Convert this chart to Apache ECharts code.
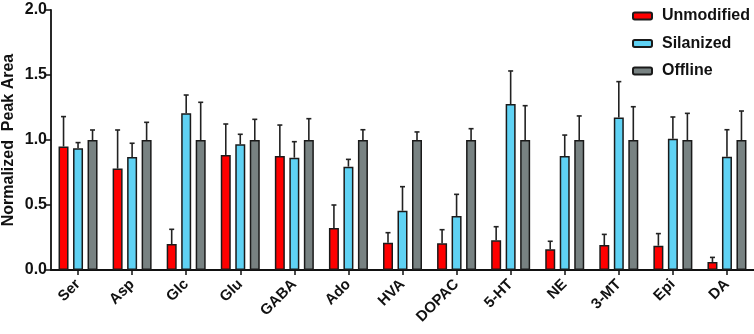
<!DOCTYPE html>
<html>
<head>
    <meta charset="utf-8">
    <title>Normalized Peak Area</title>
    <script src="https://cdn.jsdelivr.net/npm/echarts@6/dist/echarts.min.js"></script>
    <style>
        html, body { margin: 0; padding: 0; background: #fff; }
        #main { width: 754px; height: 334px; }
    </style>
</head>
<body>
<div id="main"></div>
<script type="text/javascript">
    // categories (analytes)
    var categories = ['Ser', 'Asp', 'Glc', 'Glu', 'GABA', 'Ado', 'HVA', 'DOPAC', '5-HT', 'NE', '3-MT', 'Epi', 'DA'];
    var seriesNames = ['Unmodified', 'Silanized', 'Offline'];

    // mean values
    var unmodified = [0.95, 0.78, 0.20, 0.885, 0.877, 0.323, 0.21, 0.205, 0.228, 0.159, 0.192, 0.187, 0.062];
    var silanized  = [0.936, 0.87, 1.205, 0.967, 0.864, 0.795, 0.456, 0.415, 1.277, 0.877, 1.174, 1.01, 0.872];
    var offline    = [1.0, 1.0, 1.0, 1.0, 1.0, 1.0, 1.0, 1.0, 1.0, 1.0, 1.0, 1.0, 1.0];

    // top of the error bar (mean + sd)
    var unmodifiedErr = [1.18, 1.077, 0.313, 1.123, 1.115, 0.50, 0.287, 0.31, 0.333, 0.221, 0.274, 0.28, 0.097];
    var silanizedErr  = [0.98, 0.975, 1.346, 1.044, 0.987, 0.851, 0.641, 0.582, 1.531, 1.038, 1.449, 1.177, 1.079];
    var offlineErr    = [1.077, 1.136, 1.29, 1.159, 1.164, 1.079, 1.062, 1.087, 1.264, 1.185, 1.256, 1.205, 1.223];

    var yTicks = [0, 0.5, 1.0, 1.5, 2.0];

    var colors = ['#ff0000', '#5fd2f4', '#788282'];
    var barW = 10;
    var offsets = [-14.5, 0, 14.5]; // 柱子相对类目中心的偏移

    var myChart = echarts.init(document.getElementById('main'));

    function errSeries(values, tops, k) {
        var data = [];
        for (var i = 0; i < values.length; i++) {
            data.push([i, values[i], tops[i]]);
        }
        return {
            type: 'custom',
            name: seriesNames[k] + ' err',
            z: 1,
            silent: true,
            renderItem: function (params, api) {
                var p0 = api.coord([api.value(0), api.value(1)]);
                var p1 = api.coord([api.value(0), api.value(2)]);
                var x = p0[0] + offsets[k];
                var st = { stroke: '#222', lineWidth: 1.6 };
                return {
                    type: 'group',
                    children: [
                        { type: 'line', shape: { x1: x, y1: p0[1], x2: x, y2: p1[1] }, style: st },
                        { type: 'line', shape: { x1: x - 2.5, y1: p1[1], x2: x + 2.5, y2: p1[1] }, style: st }
                    ]
                };
            },
            data: data
        };
    }

    function barSeries(name, values, k) {
        return {
            name: name,
            type: 'bar',
            barWidth: barW,
            barGap: '45%',
            z: 2,
            itemStyle: { color: colors[k], borderColor: '#1a1a1a', borderWidth: 1.5 },
            data: values
        };
    }

    var option = {
        animation: false,
        grid: { left: 51, right: 0, top: 10, bottom: 64, outerBoundsMode: 'none', containLabel: false },
        legend: {
            orient: 'vertical',
            left: 627,
            top: 3,
            itemWidth: 19,
            itemHeight: 7,
            itemGap: 11.5,
            data: seriesNames,
            textStyle: { fontFamily: 'Liberation Sans', fontWeight: 'bold', fontSize: 16, lineHeight: 16, color: '#111', padding: [0, 0, 0, 5] }
        },
        xAxis: {
            type: 'category',
            data: categories,
            axisLine: { lineStyle: { color: '#111', width: 1.8 } },
            axisTick: { show: true, alignWithLabel: true, length: 5, lineStyle: { color: '#111', width: 1.5 } },
            axisLabel: {
                rotate: 45,
                margin: 12,
                interval: 0,
                color: '#111',
                fontFamily: 'Liberation Sans',
                fontWeight: 'bold',
                fontSize: 15
            }
        },
        yAxis: {
            type: 'value',
            min: yTicks[0],
            max: yTicks[yTicks.length - 1],
            interval: 0.5,
            name: 'Normalized  Peak Area',
            nameLocation: 'middle',
            nameGap: 34,
            nameMoveOverlap: false,
            nameTextStyle: { fontFamily: 'Liberation Sans', fontWeight: 'bold', fontSize: 16, color: '#111' },
            axisLine: { show: true, lineStyle: { color: '#111', width: 1.8 } },
            axisTick: { show: true, length: 5, lineStyle: { color: '#111', width: 1.5 } },
            splitLine: { show: false },
            axisLabel: {
                color: '#111',
                fontFamily: 'Liberation Sans',
                fontWeight: 'bold',
                fontSize: 16,
                margin: 4,
                formatter: function (v) { return v.toFixed(1); }
            }
        },
        series: [
            barSeries('Unmodified', unmodified, 0),
            barSeries('Silanized', silanized, 1),
            barSeries('Offline', offline, 2),
            errSeries(unmodified, unmodifiedErr, 0),
            errSeries(silanized, silanizedErr, 1),
            errSeries(offline, offlineErr, 2)
        ]
    };
    myChart.setOption(option);
</script>
</body>
</html>
